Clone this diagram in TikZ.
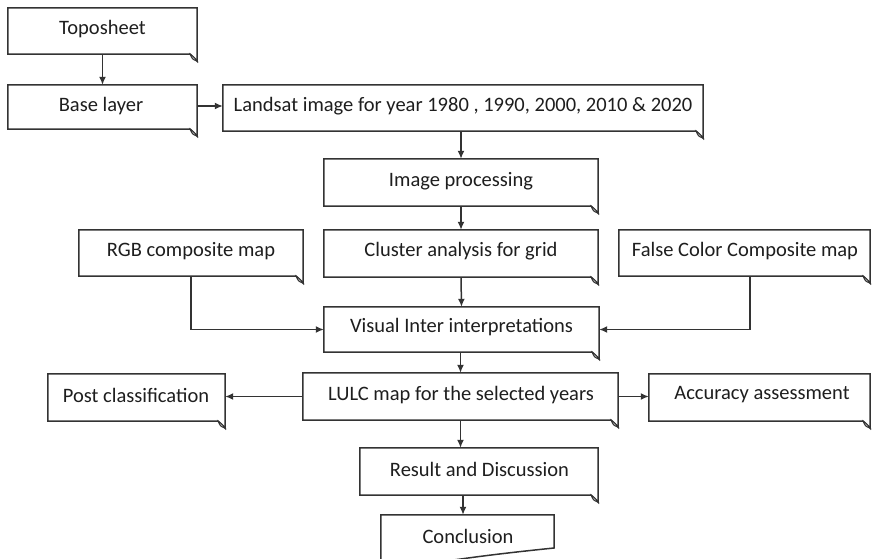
\documentclass[tikz,border=0pt]{standalone}
\usepackage{fontspec}
\setmainfont{Carlito}
\usetikzlibrary{arrows.meta,calc}
\definecolor{ln}{HTML}{333333}
\definecolor{tx}{HTML}{1E1E1E}
\begin{document}
\begin{tikzpicture}[x=1pt,y=-1pt,
  lbl/.style={inner sep=0pt,text=tx,font=\fontsize{20.5}{23}\selectfont,anchor=center},
  boxline/.style={draw=ln,line width=1.5pt,line join=miter,fill=white},
  arr/.style={draw=ln,line width=1.5pt,-{Latex[length=8pt,width=7pt]}}]
\clip (0,0) rectangle (872,559);
\fill[white] (0,0) rectangle (872,559);
% nodes
\node[lbl,minimum width=189pt,minimum height=46pt] (topo) at (102.5,31) {};
\node[lbl,minimum width=189pt,minimum height=44pt] (base) at (102.5,107) {};
\node[lbl,minimum width=480pt,minimum height=46pt] (land) at (463,108) {};
\node[lbl,minimum width=274pt,minimum height=47pt] (imgp) at (461,182.5) {};
\node[lbl,minimum width=274pt,minimum height=47pt] (clus) at (461,253.5) {};
\node[lbl,minimum width=224pt,minimum height=46pt] (rgb) at (191,253) {};
\node[lbl,minimum width=251pt,minimum height=46pt] (fcc) at (744.5,253) {};
\node[lbl,minimum width=275pt,minimum height=45pt] (vis) at (461.5,329.5) {};
\node[lbl,minimum width=315pt,minimum height=47pt] (lulc) at (460.5,396.5) {};
\node[lbl,minimum width=177pt,minimum height=47pt] (post) at (136.5,397.5) {};
\node[lbl,minimum width=221pt,minimum height=47pt] (acc) at (759.5,397.5) {};
\node[lbl,minimum width=238pt,minimum height=47pt] (res) at (479,471.5) {};
\node[lbl,minimum width=173pt,minimum height=44pt] (conc) at (467.5,537) {};
% folded boxes
\foreach \n in {topo,base,land,imgp,clus,rgb,fcc,vis,lulc,post,acc,res}{
  \path[boxline] (\n.north west) -- (\n.north east) -- ([yshift=-7pt]\n.south east)
    -- ([xshift=-7pt]\n.south east) -- (\n.south west) -- cycle;
  \path[draw=ln,fill=ln!35,line width=1pt] ([xshift=-7pt]\n.south east)
    .. controls ([xshift=-5pt,yshift=-5pt]\n.south east) .. ([yshift=-7pt]\n.south east)
    .. controls ([xshift=-2.5pt,yshift=-3.5pt]\n.south east) .. cycle;
}
% conclusion (document shape, cut off)
\path[boxline] (conc.north west) -- (conc.north east) -- (554,548)
  .. controls (515,552) and (480,556) .. (440,562) -- (381,575) -- cycle;
% texts
\node[lbl] at (102.5,29) {Toposheet};
\node[lbl] at (101,106) {Base layer};
\node[lbl] at (463,106) {Landsat image for year 1980 , 1990, 2000, 2010 \& 2020};
\node[lbl] at (461,181) {Image processing};
\node[lbl] at (461,251) {Cluster analysis for grid};
\node[lbl] at (191,251) {RGB composite map};
\node[lbl] at (745,251) {False Color Composite map};
\node[lbl] at (461.5,327) {Visual Inter interpretations};
\node[lbl] at (461,395) {LULC map for the selected years};
\node[lbl] at (136,395) {Post classification};
\node[lbl] at (762,395) {Accuracy assessment};
\node[lbl] at (479.5,469) {Result and Discussion};
\node[lbl] at (468,536) {Conclusion};
% connectors
\draw[arr] (topo.south) -- (base.north);
\draw[arr] ([yshift=1pt]base.east) -- ([yshift=1pt]base.east -| land.west);
\draw[arr] (land.south -| imgp.north) -- (imgp.north);
\draw[arr] (imgp.south) -- (clus.north);
\draw[arr] (clus.south) -- (vis.north);
\draw[arr] (rgb.south) |- (vis.west);
\draw[arr] ([xshift=5.5pt]fcc.south) |- (vis.east);
\draw[arr] (vis.south -| lulc.north) -- (lulc.north);
\draw[arr] (lulc.west) -- (lulc.west -| post.east);
\draw[arr] (lulc.east) -- (lulc.east -| acc.west);
\draw[arr] (lulc.south) -- (lulc.south |- res.north);
\coordinate (cin) at ([xshift=-4.5pt]conc.north);
\draw[arr] (cin |- res.south) -- (cin);
\end{tikzpicture}
\end{document}
